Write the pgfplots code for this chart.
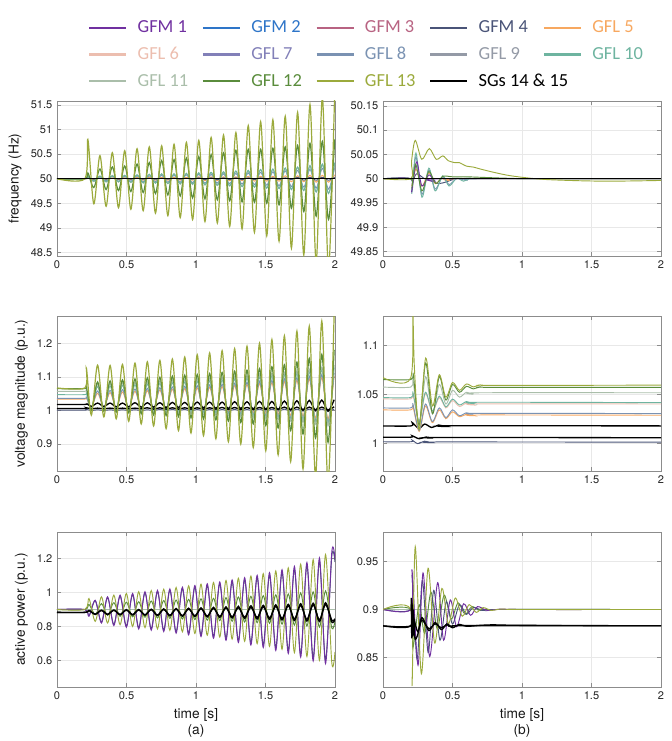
\documentclass[border=0pt]{standalone}
\usepackage{pgfplots}
\pgfplotsset{compat=1.18}
\usepackage{pgfplotstable}
\usepackage{fontspec}
\setmainfont{TeX Gyre Heros}
\newfontfamily\legfont{Carlito}

\definecolor{gfmA}{HTML}{7030A0}
\definecolor{gfmB}{HTML}{2E75C8}
\definecolor{gfmC}{HTML}{B86382}
\definecolor{gfmD}{HTML}{4A5478}
\definecolor{gflE}{HTML}{F7A860}
\definecolor{gflF}{HTML}{ECBEAF}
\definecolor{gflG}{HTML}{8280B8}
\definecolor{gflH}{HTML}{7A92B2}
\definecolor{gflI}{HTML}{949AA6}
\definecolor{gflJ}{HTML}{6EB4A0}
\definecolor{gflK}{HTML}{AABEAA}
\definecolor{gflL}{HTML}{5A8C3C}
\definecolor{gflM}{HTML}{9BAA3C}

% frequency, unstable case
\pgfplotstableread{
t g13 g12 g11 g10 g8 g5 m4
0 50 50 50 50 50 50 50
0.2 50 50 50 50 50 50 50
0.222 50.80 50.12 50.06 50.05 50.04 50.02 50.01
0.2645 49.49 49.82 49.94 49.95 49.96 49.98 49.99
0.309 50.47 50.20 50.06 50.05 50.04 50.02 50.01
0.3535 49.44 49.78 49.93 49.94 49.96 49.98 49.99
0.398 50.53 50.24 50.07 50.06 50.05 50.02 50.01
0.4425 49.41 49.76 49.93 49.94 49.95 49.98 49.99
0.487 50.57 50.26 50.07 50.07 50.05 50.02 50.01
0.5315 49.38 49.74 49.92 49.93 49.95 49.98 49.99
0.576 50.61 50.30 50.08 50.08 50.06 50.03 50.01
0.620 49.35 49.72 49.91 49.92 49.94 49.97 49.99
0.664 50.65 50.33 50.09 50.09 50.06 50.03 50.01
0.7085 49.30 49.70 49.91 49.91 49.94 49.97 49.99
0.753 50.67 50.37 50.10 50.10 50.07 50.03 50.01
0.7975 49.25 49.67 49.90 49.90 49.93 49.97 49.99
0.842 50.70 50.39 50.10 50.10 50.07 50.03 50.01
0.8865 49.21 49.65 49.89 49.90 49.93 49.97 49.99
0.931 50.74 50.42 50.11 50.11 50.08 50.03 50.01
0.9755 49.17 49.61 49.88 49.89 49.92 49.97 49.99
1.020 50.78 50.45 50.12 50.12 50.09 50.04 50.02
1.0645 49.13 49.59 49.87 49.88 49.91 49.96 49.98
1.109 50.84 50.49 50.13 50.13 50.09 50.04 50.02
1.1535 49.10 49.57 49.86 49.87 49.91 49.96 49.98
1.198 50.89 50.53 50.14 50.14 50.10 50.04 50.02
1.2425 49.03 49.55 49.85 49.86 49.90 49.96 49.98
1.287 50.94 50.58 50.15 50.16 50.11 50.04 50.02
1.3315 48.98 49.53 49.84 49.84 49.89 49.96 49.98
1.376 51.08 50.60 50.16 50.17 50.12 50.05 50.02
1.4205 48.91 49.52 49.83 49.83 49.88 49.95 49.98
1.465 51.16 50.60 50.18 50.19 50.13 50.05 50.02
1.509 48.84 49.50 49.81 49.81 49.87 49.95 49.98
1.553 51.20 50.62 50.19 50.20 50.14 50.05 50.02
1.5975 48.73 49.47 49.80 49.80 49.86 49.95 49.98
1.642 51.27 50.65 50.21 50.22 50.16 50.06 50.02
1.6865 48.59 49.40 49.78 49.78 49.84 49.94 49.98
1.731 51.35 50.68 50.23 50.24 50.17 50.06 50.03
1.7755 48.45 49.33 49.76 49.76 49.83 49.94 49.97
1.820 51.51 50.72 50.25 50.27 50.19 50.07 50.03
1.8645 48.30 49.24 49.73 49.73 49.81 49.93 49.97
1.909 51.65 50.76 50.28 50.30 50.21 50.07 50.03
1.9535 48.15 49.17 49.70 49.70 49.79 49.93 49.97
1.998 51.80 50.80 50.30 50.33 50.23 50.08 50.03
}\freqA

% voltage magnitude, unstable case
\pgfplotstableread{
t g13 g12 g11 g10 g8 g5 sga sgb m4
0 1.067 1.065 1.057 1.047 1.036 1.034 1.018 1.006 1.001
0.2 1.067 1.065 1.057 1.047 1.036 1.034 1.018 1.006 1.001
0.212 1.125 1.068 1.060 1.050 1.040 1.037 1.021 1.008 1.003
0.247 0.986 1.000 1.003 1.006 1.008 1.010 1.012 1.005 1.000
0.292 1.135 1.085 1.078 1.071 1.058 1.051 1.022 1.007 1.002
0.337 0.981 0.998 1.002 1.005 1.007 1.009 1.012 1.005 1.000
0.382 1.134 1.088 1.080 1.073 1.060 1.053 1.022 1.007 1.002
0.426 0.975 0.995 1.000 1.004 1.006 1.008 1.011 1.005 1.000
0.471 1.137 1.091 1.082 1.075 1.062 1.055 1.022 1.007 1.002
0.516 0.968 0.993 0.999 1.003 1.005 1.008 1.011 1.005 1.000
0.561 1.141 1.094 1.084 1.077 1.064 1.057 1.023 1.007 1.002
0.606 0.960 0.990 0.997 1.001 1.004 1.007 1.010 1.005 1.000
0.650 1.145 1.097 1.086 1.079 1.066 1.059 1.023 1.008 1.002
0.695 0.954 0.987 0.995 1.000 1.003 1.006 1.010 1.004 1.000
0.740 1.149 1.099 1.088 1.081 1.068 1.061 1.023 1.008 1.003
0.785 0.946 0.985 0.994 0.999 1.001 1.005 1.009 1.004 1.000
0.830 1.153 1.102 1.090 1.083 1.070 1.063 1.024 1.008 1.003
0.874 0.940 0.982 0.992 0.997 1.000 1.004 1.009 1.004 1.000
0.919 1.159 1.105 1.092 1.085 1.072 1.065 1.024 1.008 1.003
0.964 0.933 0.978 0.990 0.995 0.998 1.002 1.008 1.004 0.999
1.009 1.166 1.107 1.094 1.087 1.074 1.067 1.025 1.008 1.003
1.054 0.925 0.975 0.988 0.993 0.996 1.001 1.008 1.004 0.999
1.098 1.171 1.110 1.096 1.089 1.076 1.069 1.025 1.008 1.003
1.143 0.916 0.972 0.986 0.991 0.994 0.999 1.007 1.004 0.999
1.188 1.178 1.113 1.098 1.091 1.078 1.071 1.025 1.009 1.003
1.233 0.907 0.968 0.984 0.989 0.992 0.997 1.006 1.003 0.999
1.278 1.184 1.117 1.101 1.094 1.081 1.074 1.026 1.009 1.003
1.322 0.900 0.964 0.982 0.987 0.990 0.995 1.006 1.003 0.999
1.367 1.191 1.120 1.104 1.097 1.084 1.077 1.026 1.009 1.003
1.412 0.890 0.960 0.979 0.984 0.987 0.993 1.005 1.003 0.999
1.457 1.200 1.125 1.107 1.100 1.087 1.080 1.027 1.009 1.004
1.502 0.880 0.955 0.976 0.981 0.984 0.990 1.004 1.003 0.998
1.546 1.211 1.130 1.110 1.103 1.090 1.083 1.027 1.009 1.004
1.591 0.868 0.948 0.972 0.977 0.981 0.988 1.003 1.003 0.998
1.636 1.222 1.136 1.114 1.107 1.094 1.086 1.028 1.010 1.004
1.681 0.848 0.940 0.968 0.973 0.977 0.985 1.002 1.002 0.998
1.726 1.236 1.144 1.118 1.111 1.098 1.090 1.029 1.010 1.004
1.770 0.826 0.930 0.964 0.969 0.973 0.982 1.001 1.002 0.998
1.815 1.251 1.155 1.123 1.116 1.102 1.094 1.030 1.010 1.004
1.860 0.805 0.918 0.959 0.965 0.969 0.978 1.000 1.002 0.998
1.905 1.266 1.167 1.129 1.122 1.107 1.098 1.031 1.010 1.004
1.950 0.785 0.905 0.954 0.960 0.965 0.974 0.998 1.002 0.998
1.994 1.290 1.180 1.135 1.128 1.112 1.103 1.032 1.011 1.004
}\voltA

% active power, unstable case
\pgfplotstableread{
t g13 m1 m4 g12 sga sgb
0 0.900 0.900 0.900 0.900 0.883 0.883
0.2 0.900 0.900 0.900 0.900 0.883 0.883
0.230 0.965 0.860 0.863 0.930 0.895 0.893
0.275 0.830 0.955 0.951 0.870 0.871 0.873
0.320 0.975 0.820 0.826 0.935 0.896 0.894
0.364 0.820 0.975 0.970 0.865 0.870 0.872
0.409 0.985 0.805 0.812 0.940 0.897 0.895
0.454 0.810 0.985 0.979 0.860 0.869 0.871
0.499 0.995 0.795 0.802 0.943 0.899 0.896
0.544 0.800 0.995 0.988 0.857 0.868 0.870
0.588 1.005 0.785 0.793 0.946 0.900 0.897
0.633 0.793 1.005 0.998 0.854 0.866 0.869
0.678 1.012 0.778 0.787 0.950 0.902 0.899
0.723 0.785 1.013 1.005 0.850 0.864 0.867
0.768 1.020 0.770 0.779 0.953 0.904 0.900
0.812 0.777 1.022 1.013 0.847 0.862 0.866
0.857 1.030 0.760 0.770 0.956 0.906 0.902
0.902 0.768 1.032 1.023 0.844 0.860 0.864
0.947 1.040 0.750 0.761 0.960 0.908 0.903
0.992 0.758 1.042 1.032 0.840 0.858 0.863
1.036 1.050 0.740 0.751 0.963 0.910 0.905
1.081 0.748 1.052 1.041 0.837 0.856 0.861
1.126 1.060 0.730 0.742 0.966 0.913 0.907
1.171 0.737 1.063 1.052 0.834 0.853 0.859
1.216 1.072 0.718 0.731 0.970 0.916 0.910
1.260 0.725 1.075 1.063 0.830 0.850 0.856
1.305 1.085 0.705 0.719 0.974 0.919 0.912
1.350 0.712 1.088 1.075 0.826 0.847 0.854
1.395 1.098 0.690 0.705 0.978 0.922 0.914
1.440 0.698 1.102 1.088 0.822 0.844 0.852
1.484 1.112 0.675 0.691 0.982 0.925 0.917
1.529 0.682 1.118 1.103 0.818 0.841 0.849
1.574 1.128 0.658 0.675 0.987 0.928 0.919
1.619 0.665 1.135 1.119 0.813 0.838 0.847
1.664 1.146 0.640 0.658 0.992 0.931 0.922
1.708 0.645 1.155 1.137 0.808 0.835 0.844
1.753 1.168 0.618 0.638 0.998 0.934 0.924
1.798 0.622 1.178 1.159 0.802 0.832 0.842
1.843 1.195 0.596 0.617 1.004 0.937 0.927
1.888 0.600 1.205 1.184 0.796 0.829 0.839
1.932 1.225 0.580 0.602 1.010 0.940 0.929
1.977 0.585 1.240 1.216 0.790 0.826 0.837
2.000 0.650 1.200 1.180 0.830 0.840 0.845
}\powA

\pgfplotsset{
  panel/.style={
    scale only axis, width=208.5pt, height=116.25pt,
    anchor=north west,
    xmin=0, xmax=2, xtick={0,0.5,1,1.5,2},
    grid=major, grid style={black!9, line width=0.5pt},
    axis line style={black!45, line width=0.6pt},
    tick style={black!45, line width=0.5pt},
    major tick length=3.2pt, tick align=inside,
    ticklabel style={font=\fontsize{8.3}{10}\selectfont, text=black!85},
    label style={font=\fontsize{10.3}{12}\selectfont, text=black!90},
    /pgf/number format/assume math mode=true,
    /pgf/number format/fixed,
    every axis plot/.append style={line width=0.7pt, smooth},
  },
  sg/.style={black, line width=1pt},
}

\begin{document}
\begin{tikzpicture}
\path[use as bounding box] (0pt,0pt) rectangle (503.25pt,-555.75pt);

% legend
\begin{axis}[scale only axis, width=503.25pt, height=555.75pt,
  at={(0pt,-555.75pt)}, anchor=south west, hide axis,
  xmin=0, xmax=1, ymin=0, ymax=1,
  legend columns=5,
  legend image code/.code={\draw[#1,line width=2pt] (0pt,0pt) -- (27.75pt,0pt);},
  legend style={at={(0.1311,0.9744)}, anchor=north west, draw=none, fill=none,
    inner sep=0pt, outer sep=0pt, row sep=6.4pt,
    font=\legfont\fontsize{13.8}{16}\selectfont,
    nodes={inner sep=0pt, text height=10.5pt, text depth=3pt},
    /tikz/every odd column/.append style={column sep=7.5pt}},
  legend cell align=left]
\addlegendimage{gfmA}\addlegendentry[text=gfmA]{\makebox[48pt][l]{GFM 1}}
\addlegendimage{gfmB}\addlegendentry[text=gfmB]{\makebox[48pt][l]{GFM 2}}
\addlegendimage{gfmC}\addlegendentry[text=gfmC]{\makebox[48pt][l]{GFM 3}}
\addlegendimage{gfmD}\addlegendentry[text=gfmD]{\makebox[48pt][l]{GFM 4}}
\addlegendimage{gflE}\addlegendentry[text=gflE]{\makebox[48pt][l]{GFL 5}}
\addlegendimage{gflF}\addlegendentry[text=gflF]{\makebox[48pt][l]{GFL 6}}
\addlegendimage{gflG}\addlegendentry[text=gflG]{\makebox[48pt][l]{GFL 7}}
\addlegendimage{gflH}\addlegendentry[text=gflH]{\makebox[48pt][l]{GFL 8}}
\addlegendimage{gflI}\addlegendentry[text=gflI]{\makebox[48pt][l]{GFL 9}}
\addlegendimage{gflJ}\addlegendentry[text=gflJ]{\makebox[48pt][l]{GFL 10}}
\addlegendimage{gflK}\addlegendentry[text=gflK]{\makebox[48pt][l]{GFL 11}}
\addlegendimage{gflL}\addlegendentry[text=gflL]{\makebox[48pt][l]{GFL 12}}
\addlegendimage{gflM}\addlegendentry[text=gflM]{\makebox[48pt][l]{GFL 13}}
\addlegendimage{black}\addlegendentry[text=black]{\makebox[48pt][l]{SGs 14 \& 15}}
\end{axis}

% (a) frequency
\begin{axis}[panel, at={(42.75pt,-75.75pt)},
  ymin=48.43, ymax=51.58, ytick={48.5,49,49.5,50,50.5,51,51.5},
  ylabel={frequency (Hz)}]
\addplot[gflE] table[x=t,y=g5]{\freqA};
\addplot[gfmD] table[x=t,y=m4]{\freqA};
\addplot[gflH] table[x=t,y=g8]{\freqA};
\addplot[gflK] table[x=t,y=g11]{\freqA};
\addplot[gflJ] table[x=t,y=g10]{\freqA};
\addplot[gflL, line width=0.9pt] table[x=t,y=g12]{\freqA};
\addplot[gflM, line width=0.9pt] table[x=t,y=g13]{\freqA};
\addplot[sg] coordinates {(0,50) (2,50)};
\end{axis}

% (b) frequency
\begin{axis}[panel, at={(287.25pt,-75.75pt)},
  ymin=49.841, ymax=50.16, ytick={49.85,49.9,49.95,50,50.05,50.1,50.15}]
\addplot[gfmD] coordinates {(0,50)(0.2,50)(0.21,49.99)(0.24,50.01)(0.3,50.0)(0.36,49.994)(0.4,49.99)(0.45,49.993)(0.5,49.998)(0.55,50)(2,50)};
\addplot[gflE] coordinates {(0,50)(0.2,50)(0.207,49.985)(0.237,50.02)(0.28,49.985)(0.33,50.012)(0.375,49.99)(0.43,50.002)(0.48,49.996)(0.55,50)(2,50)};
\addplot[gflH] coordinates {(0,50)(0.2,50)(0.207,49.975)(0.237,50.045)(0.28,49.968)(0.33,50.018)(0.375,49.979)(0.43,50.004)(0.475,49.988)(0.53,50.0)(0.6,49.997)(0.7,50)(2,50)};
\addplot[gflJ] coordinates {(0,50)(0.2,50)(0.207,49.97)(0.237,50.053)(0.28,49.962)(0.33,50.022)(0.375,49.975)(0.43,50.006)(0.475,49.985)(0.53,50.001)(0.58,49.995)(0.63,50.001)(0.7,50)(2,50)};
\addplot[gfmA] coordinates {(0,50)(0.2,50)(0.205,49.972)(0.225,50.01)(0.245,50.035)(0.28,49.985)(0.33,50.008)(0.375,49.995)(0.43,50.0)(2,50)};
\addplot[gflL] coordinates {(0,50)(0.2,50)(0.21,49.985)(0.235,50.03)(0.28,49.975)(0.33,50.015)(0.38,49.99)(0.43,50.005)(0.5,50.004)(0.6,50.004)(0.7,50.003)(0.9,50.001)(1.1,50)(2,50)};
\addplot[gflM] coordinates {(0,50)(0.2,50)(0.205,50.035)(0.232,50.079)(0.279,50.040)(0.333,50.062)(0.383,50.040)(0.431,50.047)(0.47,50.037)(0.52,50.033)(0.55,50.033)(0.6,50.026)(0.65,50.024)(0.7,50.020)(0.8,50.013)(0.9,50.007)(1.0,50.003)(1.1,50.0)(1.2,49.998)(1.4,49.996)(1.6,49.995)(1.8,49.9955)(2,49.9965)};
\addplot[sg] coordinates {(0,50) (2,50)};
\end{axis}

% (a) voltage magnitude
\begin{axis}[panel, at={(42.75pt,-237pt)},
  ymin=0.82, ymax=1.281, ytick={0.9,1,1.1,1.2},
  ylabel={voltage magnitude (p.u.)}]
\addplot[gfmD] table[x=t,y=m4]{\voltA};
\addplot[gflE] table[x=t,y=g5]{\voltA};
\addplot[gflH] table[x=t,y=g8]{\voltA};
\addplot[gflJ] table[x=t,y=g10]{\voltA};
\addplot[gflK] table[x=t,y=g11]{\voltA};
\addplot[sg] table[x=t,y=sgb]{\voltA};
\addplot[sg] table[x=t,y=sga]{\voltA};
\addplot[gflL, line width=0.9pt] table[x=t,y=g12]{\voltA};
\addplot[gflM, line width=0.9pt] table[x=t,y=g13]{\voltA};
\end{axis}

% (b) voltage magnitude
\begin{axis}[panel, at={(287.25pt,-237pt)},
  ymin=0.9715, ymax=1.13, ytick={1,1.05,1.1}]
\addplot[gfmD] coordinates {(0,1.0014)(0.2,1.0014)(0.21,1.003)(0.25,0.9995)(0.3,1.002)(0.35,1.0005)(0.4,1.0012)(2,1.001)};
\addplot[sg] coordinates {(0,1.0061)(0.2,1.0061)(0.21,1.0075)(0.26,1.0045)(0.31,1.0062)(0.36,1.0052)(0.42,1.0058)(2,1.0055)};
\addplot[sg] coordinates {(0,1.0176)(0.2,1.0176)(0.21,1.021)(0.225,1.019)(0.26,1.015)(0.3,1.0195)(0.35,1.016)(0.4,1.0185)(0.45,1.017)(0.5,1.0178)(2,1.0176)};
\addplot[gflE] coordinates {(0,1.034)(0.2,1.034)(0.215,1.038)(0.26,1.012)(0.305,1.038)(0.355,1.021)(0.405,1.034)(0.452,1.025)(0.5,1.032)(0.55,1.027)(0.6,1.0295)(0.65,1.028)(0.7,1.0288)(2,1.0285)};
\addplot[gflH] coordinates {(0,1.036)(0.2,1.036)(0.215,1.04)(0.26,1.013)(0.305,1.040)(0.355,1.022)(0.405,1.036)(0.452,1.026)(0.5,1.034)(0.55,1.028)(0.6,1.031)(0.65,1.0295)(0.7,1.0305)(2,1.0302)};
\addplot[gflF] coordinates {(0,1.0453)(0.2,1.0453)(0.215,1.0505)(0.26,1.021)(0.305,1.0505)(0.355,1.032)(0.405,1.0465)(0.452,1.036)(0.5,1.0435)(0.55,1.0375)(0.6,1.041)(0.65,1.039)(0.7,1.0402)(2,1.040)};
\addplot[gflJ] coordinates {(0,1.0466)(0.2,1.0466)(0.215,1.052)(0.26,1.022)(0.305,1.052)(0.355,1.033)(0.405,1.048)(0.452,1.037)(0.5,1.045)(0.55,1.039)(0.6,1.0425)(0.65,1.0405)(0.7,1.0418)(2,1.0414)};
\addplot[gflK] coordinates {(0,1.0573)(0.2,1.0573)(0.215,1.065)(0.26,1.02)(0.307,1.068)(0.356,1.03)(0.405,1.06)(0.452,1.04)(0.5,1.054)(0.55,1.047)(0.6,1.052)(0.65,1.050)(0.7,1.0515)(2,1.0515)};
\addplot[gflL] coordinates {(0,1.065)(0.2,1.065)(0.218,1.07)(0.26,1.018)(0.307,1.082)(0.356,1.03)(0.405,1.068)(0.452,1.044)(0.5,1.06)(0.55,1.052)(0.6,1.058)(0.65,1.0555)(0.7,1.0575)(0.8,1.057)(2,1.057)};
\addplot[gflM] coordinates {(0,1.067)(0.2,1.067)(0.211,1.16)(0.225,1.08)(0.26,1.014)(0.307,1.087)(0.356,1.038)(0.405,1.070)(0.452,1.047)(0.5,1.062)(0.55,1.054)(0.6,1.0605)(0.65,1.0575)(0.7,1.0595)(0.8,1.059)(2,1.0593)};
\end{axis}

% (a) active power
\begin{axis}[panel, at={(42.75pt,-399pt)},
  ymin=0.442, ymax=1.358, ytick={0.6,0.8,1,1.2},
  ylabel={active power (p.u.)},
  xlabel={time [s]\\(a)}, xlabel style={align=center}]
\addplot[gflK] coordinates {(0,0.9)(2,0.9)};
\addplot[gflL] table[x=t,y=g12]{\powA};
\addplot[gfmD] table[x=t,y=m4]{\powA};
\addplot[gfmA] table[x=t,y=m1]{\powA};
\addplot[gflM] table[x=t,y=g13]{\powA};
\addplot[sg] table[x=t,y=sgb]{\powA};
\addplot[sg] table[x=t,y=sga]{\powA};
\end{axis}

% (b) active power
\begin{axis}[panel, at={(287.25pt,-399pt)},
  ymin=0.8193, ymax=0.9807, ytick={0.85,0.9,0.95},
  xlabel={time [s]\\(b)}, xlabel style={align=center}]
\addplot[gflK] coordinates {(0,0.9)(2,0.9)};
\addplot[gflL] coordinates {(0,0.9)(0.2,0.9)(0.215,0.86)(0.26,0.905)(0.3,0.875)(0.345,0.918)(0.39,0.88)(0.44,0.915)(0.49,0.89)(0.54,0.907)(0.59,0.895)(0.64,0.903)(0.7,0.899)(0.8,0.9)(2,0.9)};
\addplot[gfmD] coordinates {(0,0.9)(0.2,0.9)(0.21,0.935)(0.245,0.848)(0.283,0.93)(0.325,0.855)(0.365,0.92)(0.41,0.868)(0.455,0.908)(0.5,0.885)(0.55,0.905)(0.6,0.895)(0.65,0.902)(0.72,0.899)(0.8,0.9)(2,0.9)};
\addplot[gfmA] coordinates {(0,0.9)(0.2,0.9)(0.209,0.941)(0.252,0.842)(0.288,0.938)(0.336,0.851)(0.393,0.928)(0.436,0.868)(0.484,0.91)(0.53,0.882)(0.58,0.906)(0.63,0.894)(0.68,0.903)(0.75,0.899)(0.85,0.9005)(1,0.9)(2,0.9)};
\addplot[gflM] coordinates {(0,0.9)(0.2,0.9)(0.209,0.821)(0.232,0.9655)(0.276,0.833)(0.324,0.943)(0.372,0.865)(0.424,0.922)(0.47,0.885)(0.52,0.912)(0.57,0.893)(0.62,0.905)(0.67,0.897)(0.72,0.902)(0.78,0.899)(0.85,0.9005)(1,0.9)(2,0.9)};
\addplot[sg] coordinates {(0,0.883)(0.2,0.883)(0.203,0.912)(0.207,0.87)(0.211,0.905)(0.215,0.872)(0.22,0.895)(0.23,0.87)(0.25,0.874)(0.28,0.8915)(0.33,0.878)(0.375,0.8865)(0.42,0.879)(0.46,0.885)(0.5,0.881)(0.55,0.8845)(0.6,0.8825)(0.7,0.8835)(0.8,0.884)(1,0.8835)(2,0.883)};
\addplot[sg] coordinates {(0,0.883)(0.2,0.883)(0.205,0.9)(0.21,0.874)(0.22,0.89)(0.25,0.877)(0.28,0.889)(0.33,0.88)(0.375,0.885)(0.42,0.881)(0.46,0.884)(0.5,0.882)(0.6,0.8832)(2,0.883)};
\end{axis}
\end{tikzpicture}
\end{document}
